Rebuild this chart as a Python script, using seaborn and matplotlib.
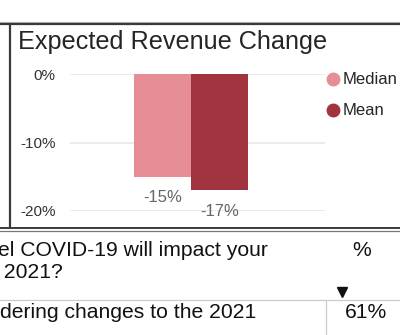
import matplotlib
matplotlib.use("Agg")
import matplotlib.pyplot as plt
from matplotlib.lines import Line2D
import seaborn as sns
import pandas as pd

sns.set_theme(style="white")
plt.rcParams["font.family"] = ["Liberation Sans", "DejaVu Sans"]

# Data
stats = ["Median", "Mean"]
revenue_change = [-15, -17]
stat_colors = ["#E68D95", "#A1333F"]
ytick_values = [0, -10, -20]
ytick_labels = ["0%", "-10%", "-20%"]
title_text = "Expected Revenue Change"
question_lines = ["el COVID-19 will impact your", " 2021?"]
answer_text = "dering changes to the 2021"
answer_pct = "61%"

W, H = 400, 335
fig = plt.figure(figsize=(W / 100, H / 100), dpi=100)
fig.patch.set_facecolor("white")


def fx(px):
    return px / W


def fy(py):
    return 1 - py / H


# Panel frame lines
frame = "#3a3a3a"
fig.add_artist(Line2D([0, 1], [fy(22), fy(22)], color="#bbbbbb", lw=0.8))
fig.add_artist(Line2D([0, 1], [fy(24), fy(24)], color=frame, lw=1.6))
fig.add_artist(Line2D([fx(9.5), fx(9.5)], [fy(24), fy(228)], color=frame, lw=1.6))
fig.add_artist(Line2D([0, 1], [fy(228), fy(228)], color=frame, lw=1.4))
fig.add_artist(Line2D([0, 1], [fy(231), fy(231)], color="#777777", lw=0.9))

fig.text(fx(18), fy(42), title_text, fontsize=18.2, color="#252525",
         ha="left", va="center")

# Bar chart axes
ax = fig.add_axes([fx(70), fy(211), fx(325) - fx(70), (211 - 74) / H])
df = pd.DataFrame({"grp": ["x", "x"], "stat": stats, "value": revenue_change})
sns.barplot(data=df, x="grp", y="value", hue="stat", hue_order=stats,
            palette=stat_colors, width=0.8, saturation=1, legend=False, ax=ax)
for p in ax.patches:
    p.set_edgecolor("none")
ax.set_xlim(-0.849, 0.940)
ax.set_ylim(-20, 0)
ax.set_yticks(ytick_values)
ax.set_yticklabels(ytick_labels, fontsize=11, color="#333333")
ax.tick_params(axis="y", length=0, pad=10.5)
ax.set_xticks([])
ax.set_xlabel("")
ax.set_ylabel("")
for s in ax.spines.values():
    s.set_visible(False)
for v in ytick_values:
    ax.axhline(v, color="#e8e8e8", lw=1.2, zorder=0)
ax.set_axisbelow(True)
ax.patch.set_alpha(0)

for p, v in zip(ax.patches, revenue_change):
    ax.annotate(f"{v}%", (p.get_x() + p.get_width() / 2, v),
                xytext=(0, -9.5), textcoords="offset points",
                ha="center", va="top", fontsize=12, color="#666666",
                annotation_clip=False)

# Legend
for i, (name, c) in enumerate(zip(stats, stat_colors)):
    yy = 79 + i * 31
    fig.add_artist(Line2D([fx(333)], [fy(yy)], marker="o", markersize=9,
                          color=c, linestyle="none"))
    fig.text(fx(343), fy(yy), name, fontsize=12, color="#252525",
             ha="left", va="center")

# Table below
tfs = 15.2
fig.text(fx(-2), fy(250), question_lines[0], fontsize=tfs, color="#111111",
         ha="left", va="center")
fig.text(fx(-2), fy(272), question_lines[1], fontsize=tfs, color="#111111",
         ha="left", va="center")
fig.text(fx(362), fy(250), "%", fontsize=tfs, color="#111111",
         ha="center", va="center")
fig.add_artist(Line2D([fx(342)], [fy(292)], marker="v", markersize=7,
                      color="#111111", linestyle="none"))
fig.add_artist(Line2D([0, 1], [fy(299.5), fy(299.5)], color="#cccccc", lw=0.9))
fig.add_artist(Line2D([fx(326), fx(326)], [fy(299.5), 0], color="#cccccc", lw=0.9))
fig.text(fx(0), fy(313), answer_text, fontsize=tfs, color="#111111",
         ha="left", va="center")
fig.text(fx(366), fy(313), answer_pct, fontsize=tfs, color="#111111",
         ha="center", va="center")

fig.savefig("out.png", dpi=100, facecolor="white")
